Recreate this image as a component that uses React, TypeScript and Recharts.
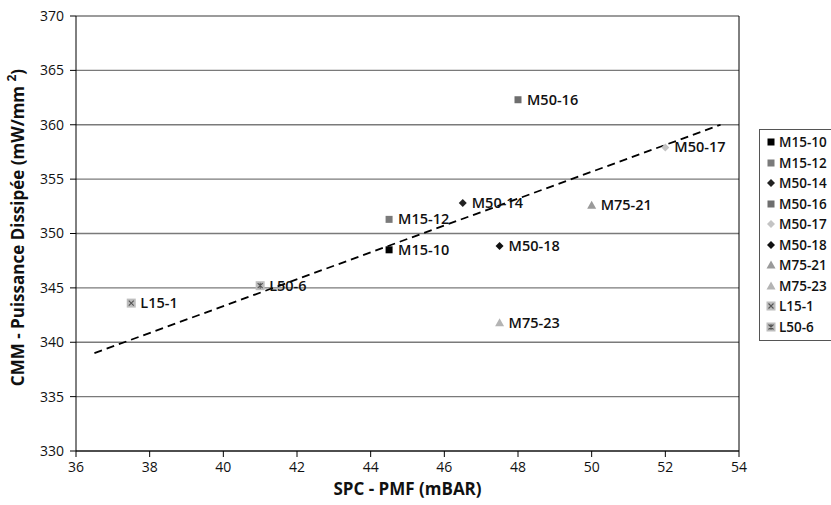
import React from 'react';
import { ScatterChart, Scatter, XAxis, YAxis, CartesianGrid, ReferenceLine, Legend, Label } from 'recharts';

const seriesNames = ['M15-10', 'M15-12', 'M50-14', 'M50-16', 'M50-17', 'M50-18', 'M75-21', 'M75-23', 'L15-1', 'L50-6'];
const spcValues = [44.5, 44.5, 46.5, 48.0, 52.0, 47.5, 50.0, 47.5, 37.5, 41.0];
const cmmValues = [348.5, 351.3, 352.8, 362.3, 357.9, 348.85, 352.6, 341.8, 343.6, 345.2];
const trendX = [36.5, 53.5];
const trendY = [339.0, 360.0];
const xTicks = [36, 38, 40, 42, 44, 46, 48, 50, 52, 54];
const yTicks = [330, 335, 340, 345, 350, 355, 360, 365, 370];

type Kind = 'square' | 'diamond' | 'triangle' | 'boxx' | 'boxstar';
const styles: { kind: Kind; color: string }[] = [
  { kind: 'square', color: '#000000' },
  { kind: 'square', color: '#7a7a7a' },
  { kind: 'diamond', color: '#222222' },
  { kind: 'square', color: '#6e6e6e' },
  { kind: 'diamond', color: '#c4c4c4' },
  { kind: 'diamond', color: '#111111' },
  { kind: 'triangle', color: '#9a9a9a' },
  { kind: 'triangle', color: '#b4b4b4' },
  { kind: 'boxx', color: '#bdbdbd' },
  { kind: 'boxstar', color: '#bdbdbd' },
];

const FONT = '"Open Sans", "DejaVu Sans", sans-serif';

function Marker({ kind, color, cx, cy }: { kind: Kind; color: string; cx: number; cy: number }) {
  switch (kind) {
    case 'square':
      return <rect x={cx - 3.5} y={cy - 3.5} width={7} height={7} fill={color} />;
    case 'diamond':
      return <polygon points={`${cx},${cy - 4} ${cx + 4},${cy} ${cx},${cy + 4} ${cx - 4},${cy}`} fill={color} />;
    case 'triangle':
      return <polygon points={`${cx},${cy - 4.5} ${cx + 4.5},${cy + 3.5} ${cx - 4.5},${cy + 3.5}`} fill={color} />;
    case 'boxx':
      return (
        <g>
          <rect x={cx - 4.5} y={cy - 4.5} width={9} height={9} fill={color} />
          <path d={`M${cx - 2.5},${cy - 2.5} L${cx + 2.5},${cy + 2.5} M${cx + 2.5},${cy - 2.5} L${cx - 2.5},${cy + 2.5}`} stroke="#555" strokeWidth={1.1} />
        </g>
      );
    case 'boxstar':
      return (
        <g>
          <rect x={cx - 4.5} y={cy - 4.5} width={9} height={9} fill={color} />
          <path d={`M${cx - 2.5},${cy - 2.5} L${cx + 2.5},${cy + 2.5} M${cx + 2.5},${cy - 2.5} L${cx - 2.5},${cy + 2.5} M${cx},${cy - 3} L${cx},${cy + 3}`} stroke="#555" strokeWidth={1.1} />
        </g>
      );
  }
  return null;
}

const seriesData = seriesNames.map((name, i) => [{ x: spcValues[i], y: cmmValues[i], name }]);
const trendData = trendX.map((x, i) => ({ x, y: trendY[i] }));

function LegendBox() {
  return (
    <div
      style={{
        border: '1px solid #555',
        background: '#fff',
        padding: '2px 4px 3px 6px',
        fontFamily: FONT,
        fontSize: 13.5,
        fontWeight: 600,
        color: '#111',
        width: 92,
        boxSizing: 'border-box',
      }}
    >
      {seriesNames.map((name, i) => (
        <div key={name} style={{ display: 'flex', alignItems: 'center', height: 20.5, whiteSpace: 'nowrap' }}>
          <svg width={10} height={10} style={{ marginRight: 3 }}>
            <Marker kind={styles[i].kind} color={styles[i].color} cx={5} cy={5} />
          </svg>
          <span>{name}</span>
        </div>
      ))}
    </div>
  );
}

export default function App() {
  return (
    <div style={{ position: 'absolute', left: 0, top: 0, width: 831, height: 505, background: '#fff', overflow: 'hidden' }}>
      <ScatterChart width={831} height={505} margin={{ top: 16, right: 92, bottom: 0, left: 0 }}>
        <CartesianGrid horizontal vertical={false} stroke="#7a7a7a" strokeWidth={1.3} />
        <XAxis
          type="number"
          dataKey="x"
          domain={[36, 54]}
          ticks={xTicks}
          allowDataOverflow
          height={54}
          tickSize={6}
          tickMargin={5}
          stroke="#000"
          tick={{ fill: '#111', fontSize: 14, fontFamily: FONT }}
        >
          <Label
            value="SPC - PMF (mBAR)"
            position="insideBottom"
            offset={10}
            style={{ fontFamily: FONT, fontSize: 17, fontWeight: 700, fill: '#111' }}
          />
        </XAxis>
        <YAxis
          type="number"
          dataKey="y"
          domain={[330, 370]}
          ticks={yTicks}
          allowDataOverflow
          width={76}
          tickSize={6}
          tickMargin={6}
          stroke="#000"
          tick={{ fill: '#111', fontSize: 14, fontFamily: FONT }}
        >
          <Label
            content={(props: any) => {
              const vb = props.viewBox || { x: 0, y: 16, width: 76, height: 435 };
              const cx = vb.x + 19;
              const cy = vb.y + vb.height / 2 - 6;
              return (
                <text
                  x={cx}
                  y={cy}
                  transform={`rotate(-90 ${cx} ${cy})`}
                  textAnchor="middle"
                  dominantBaseline="middle"
                  style={{ fontFamily: FONT, fontSize: 17, fontWeight: 700, fill: '#111' }}
                >
                  CMM - Puissance Dissipée (mW/mm <tspan dy={-6} fontSize={12}>2</tspan><tspan dy={6}>)</tspan>
                </text>
              );
            }}
          />
        </YAxis>
        <ReferenceLine x={54} stroke="#000" strokeWidth={1} />
        <Scatter
          data={trendData}
          line={{ stroke: '#000', strokeWidth: 1.8, strokeDasharray: '8 5' }}
          shape={() => <g />}
          legendType="none"
          isAnimationActive={false}
        />
        {seriesNames.map((name, i) => (
          <Scatter
            key={name}
            name={name}
            data={seriesData[i]}
            isAnimationActive={false}
            shape={(p: any) => (
              <g>
                <Marker kind={styles[i].kind} color={styles[i].color} cx={p.cx} cy={p.cy} />
                <text
                  x={p.cx + 9}
                  y={p.cy + 1}
                  dominantBaseline="middle"
                  style={{ fontFamily: FONT, fontSize: 14.5, fontWeight: 600, fill: '#111' }}
                >
                  {p.payload.name}
                </text>
              </g>
            )}
          />
        ))}
        <Legend
          layout="vertical"
          align="center"
          verticalAlign="middle"
          content={() => <LegendBox />}
          wrapperStyle={{ left: 759, top: 129, width: 92 }}
        />
      </ScatterChart>
    </div>
  );
}
